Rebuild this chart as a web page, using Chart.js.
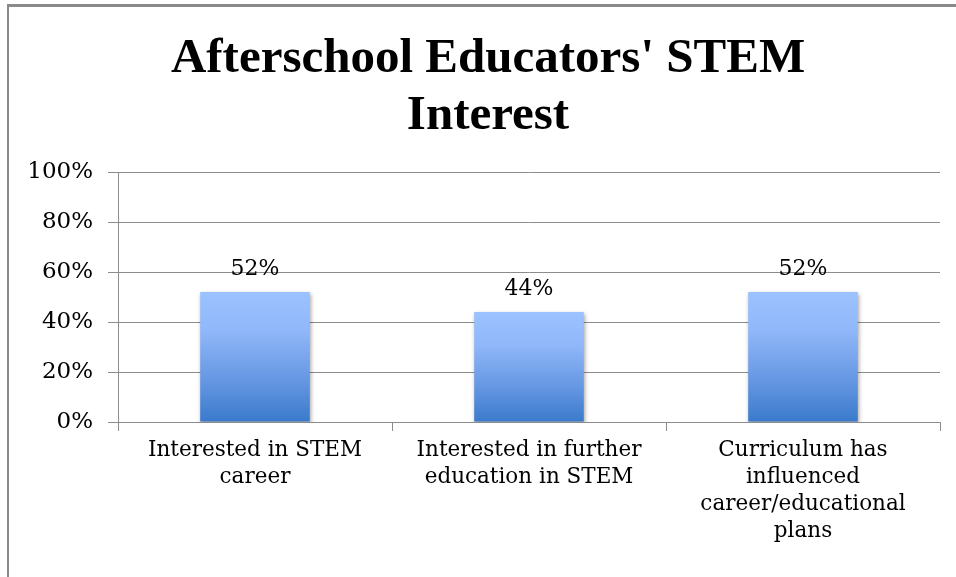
<!DOCTYPE html>
<html>
<head>
<meta charset="utf-8">
<script src="https://cdn.jsdelivr.net/npm/chart.js@4/dist/chart.umd.min.js"></script>
<style>
  html, body { margin: 0; padding: 0; background: #fff; }
  #wrap { position: relative; width: 956px; height: 577px; overflow: hidden; }
  #frame { position: absolute; left: 7px; top: 4px; width: 2000px; height: 1000px;
           border-left: 2px solid #8a8a8a; border-top: 3px solid #8a8a8a; }
  canvas { position: absolute; left: 0; top: 0; }
</style>
</head>
<body>
<div id="wrap">
  <div id="frame"></div>
  <canvas id="chart" width="956" height="577"></canvas>
</div>
<script>
const titleLines = ["Afterschool Educators' STEM", 'Interest'];
const categories = [
  ['Interested in STEM', 'career'],
  ['Interested in further', 'education in STEM'],
  ['Curriculum has', 'influenced', 'career/educational', 'plans']
];
const values = [52, 44, 52];
const yTicks = [0, 20, 40, 60, 80, 100];

const serif = "'DejaVu Serif', serif";

function barGradient(context) {
  const chart = context.chart;
  if (!chart.chartArea) return '#6d9de6';
  const y = chart.scales.y;
  const top = y.getPixelForValue(context.raw);
  const bottom = y.getPixelForValue(0);
  const g = chart.ctx.createLinearGradient(0, top, 0, bottom);
  g.addColorStop(0, '#9cc2ff');
  g.addColorStop(0.3, '#90b7f9');
  g.addColorStop(0.7, '#6395e1');
  g.addColorStop(1, '#3a7acb');
  return g;
}

const barShadow = {
  id: 'barShadow',
  beforeDatasetsDraw(chart) {
    const c = chart.ctx;
    c.save();
    c.shadowColor = 'rgba(0,0,0,0.35)';
    c.shadowBlur = 4;
    c.shadowOffsetX = 1;
    c.shadowOffsetY = 2;
  },
  afterDatasetsDraw(chart) {
    chart.ctx.restore();
  }
};

const valueLabels = {
  id: 'valueLabels',
  afterDatasetsDraw(chart) {
    const c = chart.ctx;
    const meta = chart.getDatasetMeta(0);
    c.save();
    c.font = '22px ' + serif;
    c.fillStyle = '#000';
    c.textAlign = 'center';
    c.textBaseline = 'alphabetic';
    meta.data.forEach((bar, i) => {
      c.fillText(values[i] + '%', bar.x, bar.y - 17);
    });
    c.restore();
  }
};

// title is centred on the outer frame, not on the canvas, so draw it here
const frameTitle = {
  id: 'frameTitle',
  afterDraw(chart) {
    const c = chart.ctx;
    c.save();
    c.font = "bold 49px 'Liberation Serif', serif";
    c.fillStyle = '#000';
    c.textAlign = 'center';
    c.textBaseline = 'alphabetic';
    titleLines.forEach((line, i) => c.fillText(line, 488, 72 + i * 57));
    c.restore();
  }
};

new Chart(document.getElementById('chart'), {
  type: 'bar',
  data: {
    labels: categories,
    datasets: [{
      data: values,
      backgroundColor: barGradient,
      borderWidth: 0,
      barPercentage: 0.4,
      categoryPercentage: 1
    }]
  },
  plugins: [barShadow, valueLabels, frameTitle],
  options: {
    responsive: false,
    animation: false,
    layout: { padding: { left: 0, right: 16, top: 172, bottom: 0 } },
    plugins: {
      legend: { display: false },
      tooltip: { enabled: false },
      title: { display: false }
    },
    scales: {
      x: {
        grid: { display: true, offset: true, drawOnChartArea: false, drawTicks: true, tickLength: 9, color: '#8c8c8c' },
        border: { display: true, color: '#8c8c8c', width: 1 },
        ticks: { color: '#000', font: { family: serif, size: 21.5, lineHeight: 1.256 }, padding: 6, maxRotation: 0, autoSkip: false },
        afterFit(scale) { scale.height = 155; }
      },
      y: {
        min: 0,
        max: 100,
        afterBuildTicks(scale) { scale.ticks = yTicks.map(v => ({ value: v })); },
        grid: { color: '#8c8c8c', tickLength: 10 },
        border: { display: true, color: '#8c8c8c', width: 1 },
        ticks: { color: '#000', font: { family: serif, size: 23 }, padding: 15, callback: v => v + '%' },
        afterFit(scale) { scale.width = 118; }
      }
    }
  }
});
</script>
</body>
</html>
